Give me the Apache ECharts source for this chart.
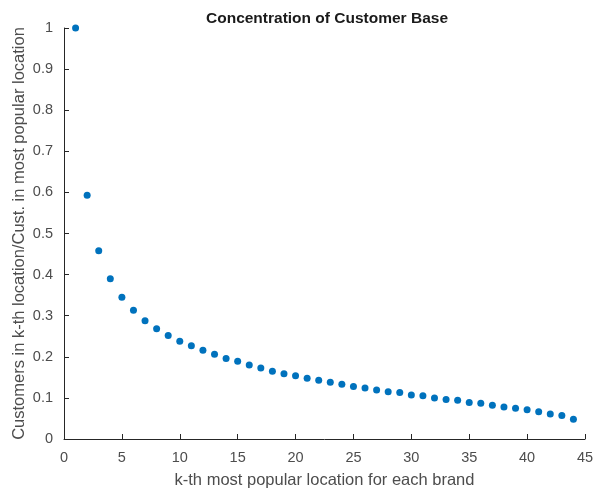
<!DOCTYPE html>
<html>
<head>
<meta charset="utf-8">
<script src="https://cdn.jsdelivr.net/npm/echarts@6/dist/echarts.min.js"></script>
<style>
html, body { margin: 0; padding: 0; background: #fff; }
#main { width: 596px; height: 493px; }
</style>
</head>
<body>
<div id="main"></div>
<script>
// k-th most popular location
var ranks = [];
for (var i = 1; i <= 44; i++) ranks.push(i);

// customers in k-th location / customers in most popular location
var ratios = [
    1.000, 0.593, 0.458, 0.390, 0.345, 0.313, 0.288, 0.268, 0.252, 0.238,
    0.227, 0.216, 0.206, 0.196, 0.189, 0.180, 0.173, 0.165, 0.159, 0.154,
    0.148, 0.143, 0.138, 0.133, 0.128, 0.124, 0.119, 0.115, 0.113, 0.107,
    0.105, 0.100, 0.096, 0.094, 0.089, 0.087, 0.082, 0.078, 0.075, 0.071,
    0.066, 0.061, 0.057, 0.048
];

var chartTitle = 'Concentration of Customer Base';
var xName = 'k-th most popular location for each brand';
var yName = 'Customers in k-th location/Cust. in most popular location';

var font = 'Liberation Sans, Arial, Helvetica, sans-serif';
var axisColor = '#262626';
var labelColor = '#4d4d4d';

var myChart = echarts.init(document.getElementById('main'), null, { renderer: 'canvas' });

var data = [];
for (var k = 0; k < ranks.length; k++) {
    data.push([ranks[k], ratios[k]]);
}

var option = {
    animation: false,
    title: {
        text: chartTitle,
        left: 322,
        textAlign: 'center',
        top: 6,
        textStyle: { fontFamily: font, fontSize: 15.5, fontWeight: 'bold', color: '#1a1a1a' }
    },
    grid: { left: 64, right: 11, top: 28, bottom: 54, containLabel: false, outerBoundsMode: 'none' },
    xAxis: {
        type: 'value',
        min: 0, max: 45, interval: 5,
        name: xName,
        nameLocation: 'middle',
        nameGap: 33,
        nameMoveOverlap: false,
        nameTextStyle: { fontFamily: font, fontSize: 16.5, color: labelColor },
        axisLine: { show: true, lineStyle: { color: axisColor, width: 1 } },
        axisTick: { show: true, inside: true, length: 5, lineStyle: { color: axisColor } },
        axisLabel: { fontFamily: font, fontSize: 14.5, color: labelColor, margin: 11 },
        splitLine: { show: false }
    },
    yAxis: {
        type: 'value',
        min: 0, max: 1, interval: 0.1,
        name: yName,
        nameLocation: 'middle',
        nameGap: 36,
        nameMoveOverlap: false,
        nameTextStyle: { fontFamily: font, fontSize: 16.5, color: labelColor },
        axisLine: { show: true, lineStyle: { color: axisColor, width: 1 } },
        axisTick: { show: true, inside: true, length: 5, lineStyle: { color: axisColor } },
        axisLabel: { fontFamily: font, fontSize: 14.5, color: labelColor, margin: 11 },
        splitLine: { show: false }
    },
    series: [{
        type: 'scatter',
        data: data,
        symbol: 'circle',
        symbolSize: 7,
        itemStyle: { color: '#0072BD', opacity: 1 },
        clip: false
    }]
};

myChart.setOption(option);
</script>
</body>
</html>
